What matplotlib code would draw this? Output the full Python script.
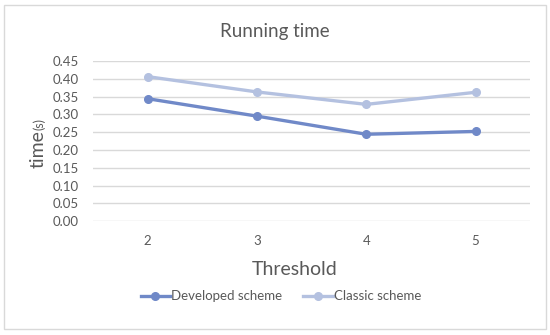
import matplotlib
matplotlib.use("Agg")
from matplotlib import pyplot as plt
from matplotlib.patches import Rectangle

thresholds = ["2", "3", "4", "5"]
developed = [0.344, 0.295, 0.244, 0.252]
classic = [0.406, 0.363, 0.328, 0.362]
yticks = [0.00, 0.05, 0.10, 0.15, 0.20, 0.25, 0.30, 0.35, 0.40, 0.45]

plt.rcParams['font.family'] = ['Lato', 'DejaVu Sans']
grey = "#595959"

fig = plt.figure(figsize=(5.5, 3.35), dpi=100)
ax = fig.add_axes([0.169, 0.340, 0.795, 0.478])

x = list(range(len(thresholds)))
ax.plot(x, developed, color="#7089c8", lw=2.4, marker="o", ms=5.5, label="Developed scheme", zorder=3)
ax.plot(x, classic, color="#b4c1e0", lw=2.4, marker="o", ms=5.5, label="Classic scheme", zorder=3)

ax.set_xlim(-0.5, len(thresholds) - 0.5)
ax.set_ylim(0, 0.45)
ax.set_xticks(x)
ax.set_xticklabels(thresholds)
ax.set_yticks(yticks)
ax.set_yticklabels([f"{v:.2f}" for v in yticks])
ax.tick_params(length=0, colors=grey, labelsize=9.5, pad=10)
ax.grid(axis="y", color="#d9d9d9", lw=1)
ax.set_axisbelow(True)
for s in ax.spines.values():
    s.set_visible(False)

fig.text(0.5, 0.907, "Running time", ha="center", va="center", fontsize=13.5, color=grey)
fig.text(0.535, 0.195, "Threshold", ha="center", va="center", fontsize=14, color=grey)
fig.text(0.069, 0.555, "time", rotation=90, ha="center", va="center", fontsize=14, color=grey)
fig.text(0.071, 0.630, "(s)", rotation=90, ha="center", va="center", fontsize=9, color=grey)

fig.legend(loc="center", bbox_to_anchor=(0.511, 0.115), ncol=2, frameon=False,
           fontsize=9.5, labelcolor=grey, handlelength=2.2, handletextpad=0.1,
           columnspacing=1.6)

fig.patches.append(Rectangle((0.008, 0.018), 0.985, 0.967, transform=fig.transFigure,
                             fill=False, edgecolor="#d9d9d9", lw=1))

fig.savefig("out.png", dpi=100)
